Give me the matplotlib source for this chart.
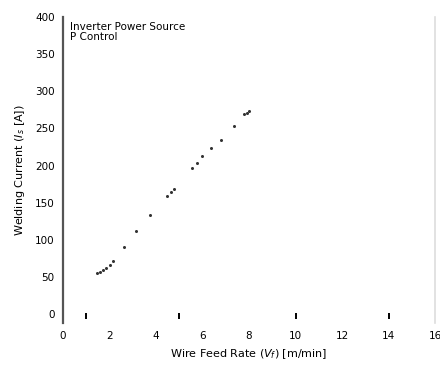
import matplotlib
matplotlib.use("Agg")
import matplotlib.pyplot as plt

# wire feed rate vs welding current
wire_feed = [1.45, 1.6, 1.71, 1.85, 2.0, 2.14, 2.61, 3.16, 3.76, 4.49, 4.65, 4.79,
             5.56, 5.75, 5.98, 6.37, 6.79, 7.35, 7.78, 7.9, 7.99]
current = [55, 57, 59, 62, 66, 72, 91, 112, 134, 159, 164, 169,
           197, 203, 213, 223, 235, 253, 269, 271, 273]

# small marks sitting on the zero line
mark_x = [1, 5, 10, 14]
mark_y = [-3, -3, -3, -3]

x_ticks = [0, 2, 4, 6, 8, 10, 12, 14, 16]
y_ticks = [0, 50, 100, 150, 200, 250, 300, 350, 400]

fig = plt.figure(figsize=(4.4, 3.66), dpi=100)
ax = fig.add_axes([0.1432, 0.1175, 0.8455, 0.836])

ax.plot(wire_feed, current, linestyle='none', marker='o', markersize=2.2,
        color='#333333', markeredgewidth=0)
ax.scatter(mark_x, mark_y, marker='|', s=18, color='black', linewidths=1.4)

ax.set_xlim(0, 16)
ax.set_ylim(-12, 400)
ax.set_xticks(x_ticks)
ax.set_yticks(y_ticks)
ax.tick_params(length=0, labelsize=7.5, pad=6)

for side in ['top', 'bottom']:
    ax.spines[side].set_visible(False)
ax.spines['left'].set_color('#555555')
ax.spines['left'].set_linewidth(1.6)
ax.spines['right'].set_color('#dddddd')
ax.spines['right'].set_linewidth(1.2)

ax.text(0.019, 0.985, 'Inverter Power Source\nP Control', transform=ax.transAxes,
        ha='left', va='top', fontsize=7.5, linespacing=1.1)

ax.set_xlabel('Wire Feed Rate ($V_f$) [m/min]', fontsize=8, labelpad=4)
ax.set_ylabel('Welding Current ($I_s$ [A])', fontsize=8, labelpad=6)

plt.savefig('out.png', dpi=100)
